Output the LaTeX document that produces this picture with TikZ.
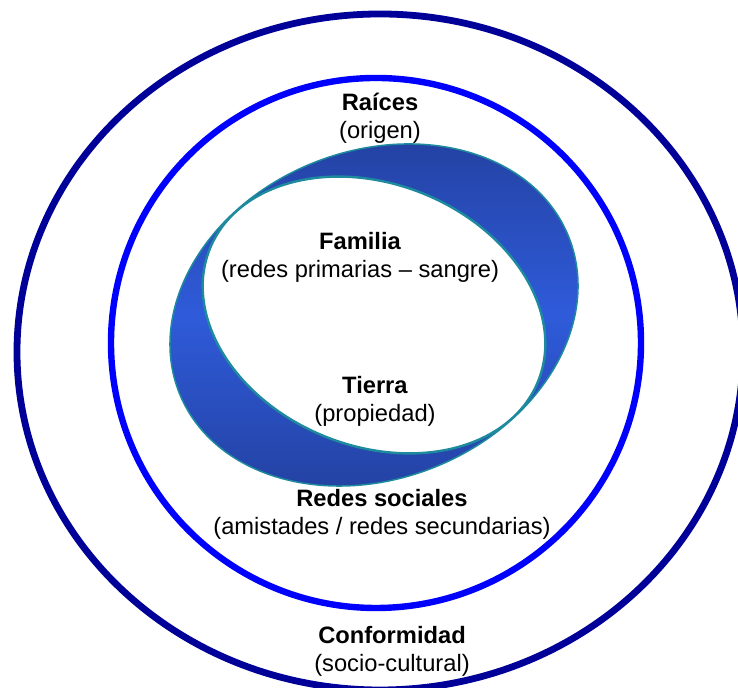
\documentclass[tikz,border=0pt]{standalone}
\usepackage{fontspec}
\setmainfont{Liberation Sans}
\definecolor{navyring}{HTML}{000099}
\definecolor{bluering}{HTML}{0000FF}
\definecolor{banddark}{HTML}{223F9C}
\definecolor{bandlight}{HTML}{2F5BDA}
\definecolor{bandedge}{HTML}{1E8A9E}

\begin{document}
\begin{tikzpicture}[x=0.5pt, y=0.5pt, lbl/.style={align=center, inner sep=0pt, font=\fontsize{11.85}{14}\selectfont}]
\tikzstyle{ring}=[line width=3.4pt]
\tikzstyle{bandline}=[draw=bandedge, line width=0.75pt]
\useasboundingbox (0,0) rectangle (738,688);
% outer rings
\draw[ring, navyring] (380,336) ellipse [x radius=363, y radius=338];
\draw[ring, bluering, line width=3.2pt] (376,345) circle [radius=265];
% twisted band
\shade[top color=banddark, bottom color=banddark, middle color=bandlight, bandline, rotate around={22:(374,373)}] (374,373) ellipse [x radius=209.8, y radius=163.8];
\begin{scope}
\clip[rotate around={22:(374,373)}] (374,373) ellipse [x radius=209.8, y radius=163.8];
\filldraw[fill=white, bandline, line width=1.2pt, rotate around={-22:(374,373)}] (374,373) ellipse [x radius=177, y radius=131];
\end{scope}
% labels
\node[lbl] (raices) at (380,570) {\textbf{Raíces}\\(origen)};
\node[lbl] (familia) at (360,431) {\textbf{Familia}\\(redes primarias – sangre)};
\node[lbl] (tierra) at (375,287) {\textbf{Tierra}\\(propiedad)};
\node[lbl] (redes) at (382,174) {\textbf{Redes sociales}\\(amistades / redes secundarias)};
\node[lbl] (conformidad) at (392,37) {\textbf{Conformidad}\\(socio-cultural)};
\end{tikzpicture}
\end{document}
